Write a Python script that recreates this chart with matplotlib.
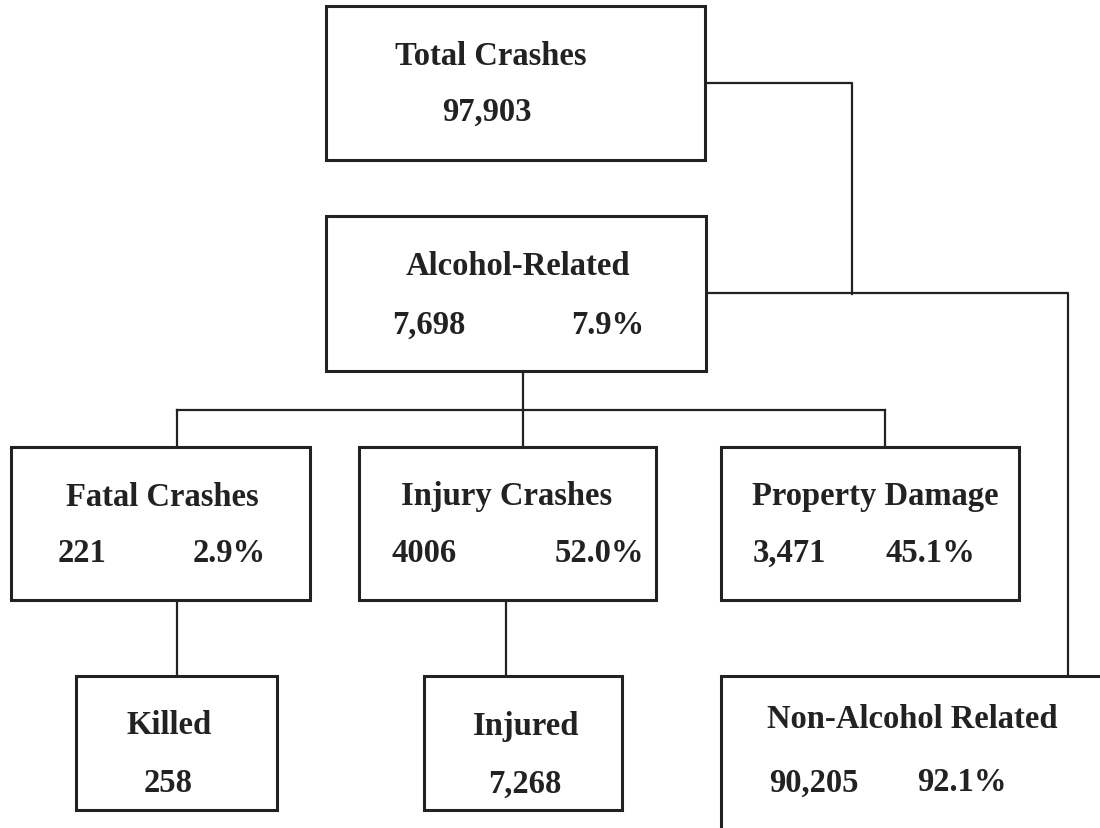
import matplotlib.pyplot as plt
from matplotlib.patches import Rectangle

# box contents
titles = ['Total Crashes', 'Alcohol-Related', 'Fatal Crashes', 'Injury Crashes',
          'Property Damage', 'Killed', 'Injured', 'Non-Alcohol Related']
counts = ['97,903', '7,698', '221', '4006', '3,471', '258', '7,268', '90,205']
shares = [None, '7.9%', '2.9%', '52.0%', '45.1%', None, None, '92.1%']

# layout in pixel coords (x0, x1, y0, y1)
boxes = [(326, 705, 7, 161), (326, 706, 217, 372),
         (11, 310, 448, 601), (359, 656, 448, 601), (721, 1019, 448, 601),
         (76, 277, 677, 811), (424, 622, 677, 811), (721, 1115, 677, 845)]
# title (x, y), count x, share x, number y
title_pos = [(491, 56), (518, 266), (162, 497), (507, 497), (875, 497),
             (169, 726), (526, 726), (912, 720)]
count_x = [487, 429, 82, 424, 789, 168, 525, 814]
share_x = [None, 608, 229, 599, 930, None, None, 962]
num_y = [112, 325, 553, 553, 553, 784, 784, 783]

connectors = [
    [(705, 84), (852, 84), (852, 295)],
    [(706, 294), (1068, 294), (1068, 677)],
    [(523, 372), (523, 448)],
    [(177, 411), (885, 411)],
    [(177, 411), (177, 448)],
    [(885, 411), (885, 448)],
    [(177, 601), (177, 677)],
    [(506, 601), (506, 677)],
]

ink = '#222222'
font = dict(family='Liberation Serif', weight='bold', size=23.5, color=ink,
            ha='center', va='center')

fig = plt.figure(figsize=(11, 8.29), dpi=100)
ax = fig.add_axes([0, 0, 1, 1])
ax.set_xlim(0, 1100)
ax.set_ylim(829, 0)
ax.axis('off')

for pts in connectors:
    xs, ys = zip(*pts)
    ax.plot(xs, ys, color=ink, lw=1.6, solid_capstyle='projecting')

for i, (x0, x1, y0, y1) in enumerate(boxes):
    ax.add_patch(Rectangle((x0, y0), x1 - x0, y1 - y0, fill=True, facecolor='white',
                           edgecolor=ink, lw=2.2, zorder=2))
    tx, ty = title_pos[i]
    ax.text(tx, ty, titles[i], zorder=3, **font)
    ax.text(count_x[i], num_y[i], counts[i], zorder=3, **font)
    if shares[i]:
        ax.text(share_x[i], num_y[i], shares[i], zorder=3, **font)

fig.savefig('out.png', dpi=100)
